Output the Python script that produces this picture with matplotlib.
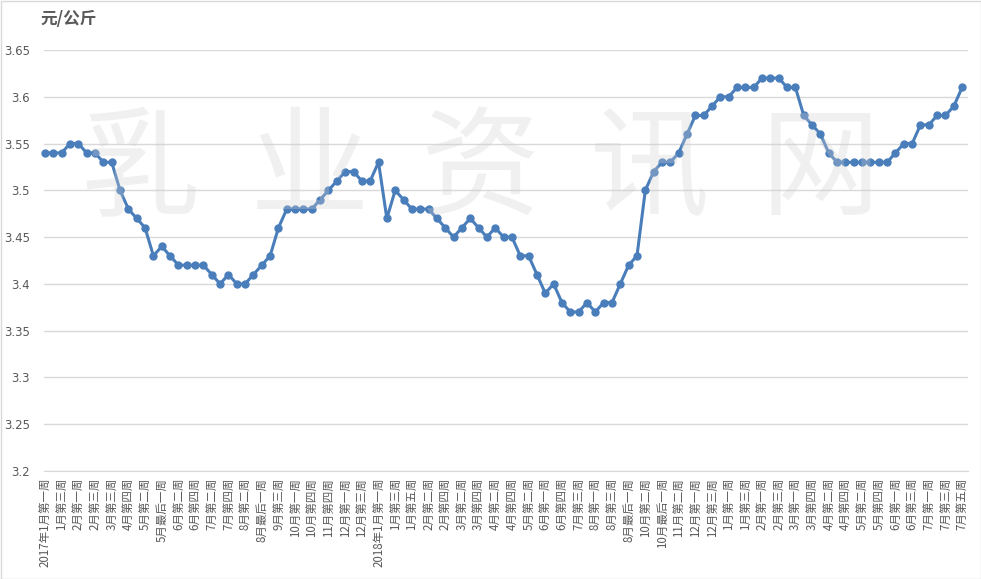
import matplotlib.pyplot as plt
import numpy as np

plt.rcParams['font.family'] = ['Noto Sans CJK SC', 'DejaVu Sans']

# weekly price, yuan/kg
prices = [
    3.54, 3.54, 3.54, 3.55, 3.55, 3.54, 3.54, 3.53, 3.53, 3.50,
    3.48, 3.47, 3.46, 3.43, 3.44, 3.43, 3.42, 3.42, 3.42, 3.42,
    3.41, 3.40, 3.41, 3.40, 3.40, 3.41, 3.42, 3.43, 3.46, 3.48,
    3.48, 3.48, 3.48, 3.49, 3.50, 3.51, 3.52, 3.52, 3.51, 3.51,
    3.53, 3.47, 3.50, 3.49, 3.48, 3.48, 3.48, 3.47, 3.46, 3.45,
    3.46, 3.47, 3.46, 3.45, 3.46, 3.45, 3.45, 3.43, 3.43, 3.41,
    3.39, 3.40, 3.38, 3.37, 3.37, 3.38, 3.37, 3.38, 3.38, 3.40,
    3.42, 3.43, 3.50, 3.52, 3.53, 3.53, 3.54, 3.56, 3.58, 3.58,
    3.59, 3.60, 3.60, 3.61, 3.61, 3.61, 3.62, 3.62, 3.62, 3.61,
    3.61, 3.58, 3.57, 3.56, 3.54, 3.53, 3.53, 3.53, 3.53, 3.53,
    3.53, 3.53, 3.54, 3.55, 3.55, 3.57, 3.57, 3.58, 3.58, 3.59,
    3.61,
]

# every second week is labelled
week_labels = [
    '2017年1月第一周', '1月第三周', '2月第一周', '2月第三周', '3月第三周',
    '4月第四周', '5月第二周', '5月最后一周', '6月第二周', '6月第四周',
    '7月第二周', '7月第四周', '8月第二周', '8月最后一周', '9月第三周',
    '10月第一周', '10月第四周', '11月第四周', '12月第一周', '12月第三周',
    '2018年1月第一周', '1月第三周', '1月第五周', '2月第二周', '2月第四周',
    '3月第二周', '3月第四周', '4月第二周', '4月第四周', '5月第二周',
    '6月第一周', '6月第四周', '7月第三周', '8月第一周', '8月第三周',
    '8月最后一周', '10月第二周', '10月最后一周', '11月第二周', '12月第一周',
    '12月第三周', '1月第一周', '1月第三周', '2月第一周', '2月第三周',
    '3月第一周', '3月第四周', '4月第二周', '4月第四周', '5月第二周',
    '5月第四周', '6月第一周', '6月第三周', '7月第一周', '7月第三周',
    '7月第五周',
]

watermark = ['乳', '业', '资', '讯', '网']

W, H = 981, 579
fig = plt.figure(figsize=(W / 100, H / 100), dpi=100)
ax = fig.add_axes([44 / W, 1 - 471 / H, (968 - 44) / W, (471 - 50) / H])

x = np.arange(len(prices))
ax.plot(x, prices, color='#4A7EBB', linewidth=2.2, marker='o', markersize=5,
        zorder=3, clip_on=False)

ax.set_xlim(-0.12, 110.7)
ax.set_ylim(3.2, 3.65)
ax.set_yticks(np.arange(3.2, 3.651, 0.05))
ax.set_yticklabels(['3.2', '3.25', '3.3', '3.35', '3.4', '3.45', '3.5', '3.55', '3.6', '3.65'],
                   family='DejaVu Sans')
ax.set_xticks(x[::2])
ax.set_xticklabels(week_labels, rotation=90, va='top', ha='center')

ax.grid(axis='y', color='#D9D9D9', linewidth=1)
ax.set_axisbelow(True)
for s in ['top', 'right', 'left']:
    ax.spines[s].set_visible(False)
ax.spines['bottom'].set_color('#D9D9D9')
ax.tick_params(axis='both', length=0, colors='#595959')
ax.tick_params(axis='x', labelsize=8.3, pad=5)
ax.tick_params(axis='y', labelsize=8.5, pad=10)

# watermark over the line, semi transparent
for i, ch in enumerate(watermark):
    fig.text((140 + i * 170) / W, 1 - 172 / H, ch, fontsize=86, color='#CFCFCF',
             alpha=0.3, ha='center', va='center', zorder=10, fontweight='light')

fig.text(40 / W, 1 - 19 / H, '元/公斤', fontsize=12, fontweight='bold',
         color='#595959', ha='left', va='center')

fig.patches.append(plt.Rectangle((0.5 / W, 0.5 / H), 1 - 1 / W, 1 - 1 / H,
                                 transform=fig.transFigure, fill=False,
                                 edgecolor='#D9D9D9', linewidth=1))

fig.savefig('out.png', dpi=100)
